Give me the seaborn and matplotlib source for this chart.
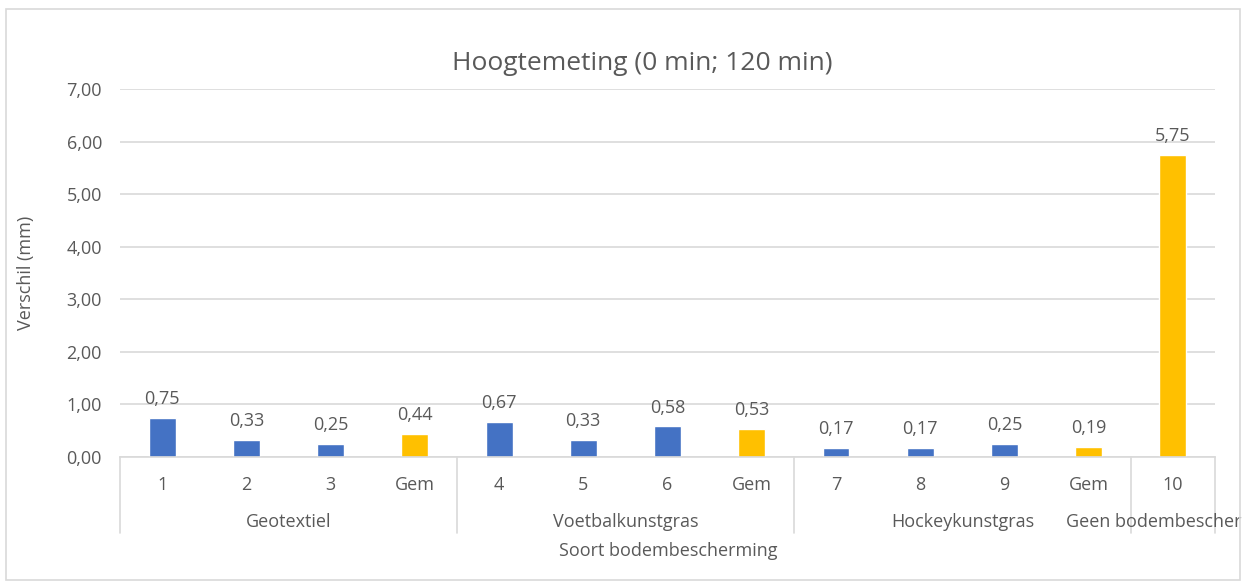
import matplotlib
matplotlib.use("Agg")
import matplotlib.pyplot as plt
import matplotlib.transforms as mtransforms
from matplotlib.patches import Rectangle
from matplotlib.ticker import FuncFormatter, MultipleLocator
import seaborn as sns
import pandas as pd

# Measurements per soil protection type
groups = ["Geotextiel", "Voetbalkunstgras", "Hockeykunstgras", "Geen bodembescher"]
group_ticks = [["1", "2", "3", "Gem"], ["4", "5", "6", "Gem"], ["7", "8", "9", "Gem"], ["10"]]
group_values = [[0.75, 0.33, 0.25, 0.44], [0.67, 0.33, 0.58, 0.53], [0.17, 0.17, 0.25, 0.19], [5.75]]
group_kinds = [["meting", "meting", "meting", "gem"], ["meting", "meting", "meting", "gem"],
               ["meting", "meting", "meting", "gem"], ["gem"]]

title = "Hoogtemeting (0 min; 120 min)"
ylabel = "Verschil (mm)"
xlabel = "Soort bodembescherming"

rows = []
for g, ticks, vals, kinds in zip(groups, group_ticks, group_values, group_kinds):
    for t, v, k in zip(ticks, vals, kinds):
        rows.append({"key": f"{g}|{t}", "group": g, "tick": t, "value": v, "kind": k})
df = pd.DataFrame(rows)
order = list(df["key"])

sns.set_theme(style="white")
plt.rcParams["font.family"] = ["Open Sans", "DejaVu Sans"]

TEXT = "#595959"
GRID = "#D9D9D9"
FS = 13
palette = {"meting": "#4472C4", "gem": "#FFC000"}

fig = plt.figure(figsize=(12.44, 5.82), dpi=100)
ax = fig.add_axes([0.0965, 0.2148, 0.8802, 0.6322])

sns.barplot(data=df, x="key", y="value", hue="kind", order=order, palette=palette,
            dodge=False, width=0.32, legend=False, ax=ax, saturation=1)

ax.set_ylim(0, 7)
ax.set_xlim(-0.5, len(order) - 0.5)
ax.yaxis.set_major_locator(MultipleLocator(1))
ax.yaxis.set_major_formatter(FuncFormatter(lambda v, p: f"{v:.2f}".replace(".", ",")))
ax.grid(axis="y", color=GRID, linewidth=1.2)
ax.set_axisbelow(True)
for s in ["top", "right", "left"]:
    ax.spines[s].set_visible(False)
ax.spines["bottom"].set_color(GRID)
ax.spines["bottom"].set_linewidth(1.2)
ax.tick_params(axis="y", length=0, labelsize=FS, labelcolor=TEXT, pad=13)
ax.tick_params(axis="x", length=0, labelsize=FS, labelcolor=TEXT, pad=14)
ax.set_xticks(range(len(order)))
ax.set_xticklabels(df["tick"])
ax.set_xlabel("")
ax.set_ylabel(ylabel, fontsize=FS, color=TEXT, labelpad=23)

for cont in ax.containers:
    ax.bar_label(cont, fmt=lambda v: f"{v:.2f}".replace(".", ","), padding=7,
                 fontsize=FS, color=TEXT)

# Group level of the category axis
trans = mtransforms.blended_transform_factory(ax.transData, ax.transAxes)
line_bottom = -76 / 368
pos = -0.5
bounds = [pos]
for g, ticks in zip(groups, group_ticks):
    start = pos
    pos += len(ticks)
    bounds.append(pos)
    center = (start + pos) / 2
    if g == groups[-1]:
        center = start + 0.27
    ax.text(center, -65 / 368, g, transform=trans, ha="center", va="center",
            fontsize=FS, color=TEXT, clip_on=False)
for b in bounds:
    ax.plot([b, b], [0, line_bottom], transform=trans, color=GRID, linewidth=1.2,
            clip_on=False)

fig.text(642 / 1244, 1 - 64 / 582, title, ha="center", va="center", fontsize=19, color=TEXT)
fig.text(668 / 1244, 1 - 551 / 582, xlabel, ha="center", va="center", fontsize=FS, color=TEXT)

fig.patches.append(Rectangle((6 / 1244, 2 / 582), 1234 / 1244, 571 / 582,
                             transform=fig.transFigure, fill=False, edgecolor=GRID,
                             linewidth=1.2))

fig.savefig("out.png", dpi=100)
